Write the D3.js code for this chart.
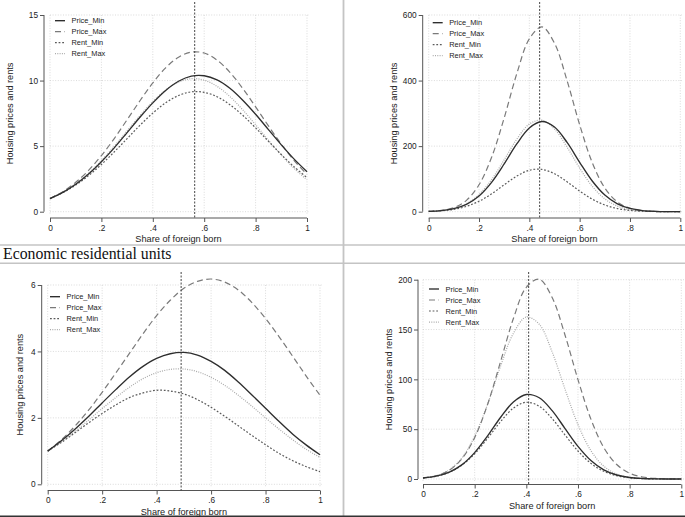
<!DOCTYPE html>
<html><head><meta charset="utf-8">
<script src="https://cdn.jsdelivr.net/npm/d3@7"></script>
<style>
html,body{margin:0;padding:0;background:#fff;}
svg{display:block;}
</style></head>
<body>
<svg id="chart" width="685" height="517"></svg>
<script>
// ---------- data ----------
const shareForeignBorn = [0,0.05,0.1,0.15,0.2,0.25,0.3,0.35,0.4,0.45,0.5,0.55,0.6,0.65,0.7,0.75,0.8,0.85,0.9,0.95,1];
const seriesNames = ["Price_Min","Price_Max","Rent_Min","Rent_Max"];
const xTickValues = [0,0.2,0.4,0.6,0.8,1];
const xTickLabels = ["0",".2",".4",".6",".8","1"];
const sectionLabel = "Economic residential units";
const xAxisTitle = "Share of foreign born";
const yAxisTitle = "Housing prices and rents";

// panel 1 (top-left)
const p1PriceMin = [1,1.47,2.09,2.87,3.81,4.87,6.03,7.20,8.30,9.25,9.95,10.34,10.37,10.05,9.41,8.50,7.43,6.26,5.10,4.01,3.05];
const p1PriceMax = [1,1.53,2.24,3.15,4.28,5.58,7.01,8.46,9.82,10.97,11.78,12.17,12.10,11.56,10.63,9.40,8.00,6.54,5.15,3.90,2.84];
const p1RentMin  = [1,1.45,2.03,2.75,3.60,4.56,5.57,6.59,7.52,8.30,8.86,9.14,9.10,8.77,8.16,7.35,6.39,5.37,4.36,3.42,2.60];
const p1RentMax  = [1,1.49,2.13,2.93,3.90,4.99,6.16,7.33,8.40,9.28,9.88,10.14,10.03,9.56,8.78,7.77,6.63,5.45,4.32,3.30,2.43];
const p1YTicks = [0,5,10,15];
const p1RefX = 0.563;

// panel 2 (top-right)
const p2PriceMin = [1,3.2,9.1,22.4,48.0,89.6,145.7,206.6,255.3,275.0,258.2,211.2,150.6,93.6,50.7,23.9,9.9,3.5,1.1,0.3,0.1];
const p2PriceMax = [1,3.8,12.5,34.6,82.1,165.9,286.0,420.7,527.3,563.7,513.9,399.6,265.1,149.9,72.3,29.7,10.4,3.1,0.8,0.2,0.0];
const p2RentMin  = [1,2.9,7.3,16.3,31.8,54.5,82.1,108.7,126.4,129.0,115.7,91.1,63.0,38.3,20.4,9.6,3.9,1.4,0.5,0.1,0.0];
const p2RentMax  = [1,3.3,9.7,24.2,52.4,97.9,158.3,221.2,267.3,279.2,252.2,196.9,132.9,77.6,39.1,17.1,6.4,2.1,0.6,0.1,0.0];
const p2YTicks = [0,200,400,600];
const p2RefX = 0.441;

// panel 3 (bottom-left)
const p3PriceMin = [1,1.31,1.66,2.04,2.45,2.85,3.23,3.55,3.79,3.93,3.97,3.89,3.70,3.43,3.08,2.69,2.29,1.89,1.51,1.18,0.89];
const p3PriceMax = [1,1.34,1.75,2.23,2.77,3.35,3.94,4.53,5.08,5.54,5.90,6.11,6.18,6.09,5.85,5.47,4.99,4.44,3.85,3.25,2.68];
const p3RentMin  = [1,1.26,1.55,1.85,2.13,2.39,2.61,2.75,2.83,2.81,2.72,2.55,2.32,2.05,1.76,1.47,1.19,0.93,0.71,0.53,0.38];
const p3RentMax  = [1,1.28,1.59,1.93,2.28,2.61,2.92,3.18,3.36,3.46,3.47,3.39,3.22,2.98,2.68,2.35,2.00,1.66,1.34,1.05,0.81];
const p3YTicks = [0,2,4,6];
const p3RefX = 0.49;

// panel 4 (bottom-right)
const p4PriceMin = [1,2.8,6.7,14.2,26.5,43.2,61.7,77.3,84.8,81.5,68.6,50.6,32.8,18.6,9.2,4.0,1.5,0.5,0.1,0.0,0.0];
const p4PriceMax = [1,3.1,8.5,20.1,41.5,74.8,117.5,161.0,192.4,200.4,182.1,144.3,99.7,60.1,31.5,14.5,5.8,2.0,0.6,0.2,0.0];
const p4RentMin  = [1,2.7,6.6,13.8,25.3,40.8,57.5,71.1,77.0,73.0,60.6,44.1,28.1,15.7,7.7,3.3,1.2,0.4,0.1,0.0,0.0];
const p4RentMax  = [1,3.2,8.9,21.0,42.9,75.0,113.0,146.2,162.5,155.3,127.5,90.0,54.6,28.5,12.8,4.9,1.6,0.5,0.1,0.0,0.0];
const p4YTicks = [0,50,100,150,200];
const p4RefX = 0.409;

// ---------- styles ----------
const styles = {
  Price_Min: {stroke:"#2e2e2e", dash:null, width:1.35},
  Price_Max: {stroke:"#7a7a7a", dash:"6,3.5", width:1.2},
  Rent_Min:  {stroke:"#5a5a5a", dash:"1.8,1.8", width:1.2},
  Rent_Max:  {stroke:"#ababab", dash:"1,1.3", width:1.25}
};
const SANS = "'Liberation Sans', Arial, Helvetica, sans-serif";

const panels = [
  {series:[p1PriceMin,p1PriceMax,p1RentMin,p1RentMax], yTicks:p1YTicks, refX:p1RefX,
   x0:50, x1:307, yTopPx:15, yBotPx:211.7, axisX:44, axisY:218, refTop:2, yTitleX:10,
   legX:55, legY:20.7},
  {series:[p2PriceMin,p2PriceMax,p2RentMin,p2RentMax], yTicks:p2YTicks, refX:p2RefX,
   x0:428.7, x1:680.3, yTopPx:15, yBotPx:211.7, axisX:422.7, axisY:218, refTop:2, yTitleX:394,
   legX:432.7, legY:22.7},
  {series:[p3PriceMin,p3PriceMax,p3RentMin,p3RentMax], yTicks:p3YTicks, refX:p3RefX,
   x0:47.7, x1:320, yTopPx:285, yBotPx:484.3, axisX:41.7, axisY:490.5, refTop:272, yTitleX:20,
   legX:50, legY:296.7},
  {series:[p4PriceMin,p4PriceMax,p4RentMin,p4RentMax], yTicks:p4YTicks, refX:p4RefX,
   x0:423, x1:681.3, yTopPx:279.7, yBotPx:479, axisX:418, axisY:484.5, refTop:272, yTitleX:389,
   legX:429, legY:289}
];

const svg = d3.select("#chart");
svg.append("rect").attr("width",685).attr("height",517).attr("fill","#fff");

// ---------- table frame ----------
const frame = svg.append("g");
frame.append("line").attr("x1",0).attr("x2",685).attr("y1",245).attr("y2",245).attr("stroke","#c4c4c4").attr("stroke-width",1.6);
frame.append("line").attr("x1",0).attr("x2",685).attr("y1",263.3).attr("y2",263.3).attr("stroke","#c4c4c4").attr("stroke-width",1.6);
frame.append("line").attr("x1",343.5).attr("x2",343.5).attr("y1",0).attr("y2",517).attr("stroke","#c4c4c4").attr("stroke-width",1.8);
frame.append("line").attr("x1",0).attr("x2",685).attr("y1",516.3).attr("y2",516.3).attr("stroke","#333").attr("stroke-width",1.6);
frame.append("text").attr("x",3).attr("y",259.3)
  .attr("font-family","'Liberation Serif', 'Times New Roman', serif")
  .attr("font-size",15.8).attr("fill","#111").text(sectionLabel);

// ---------- panels ----------
panels.forEach(p => {
  const g = svg.append("g");
  const yMax = d3.max(p.yTicks);
  const x = d3.scaleLinear().domain([0,1]).range([p.x0,p.x1]);
  const y = d3.scaleLinear().domain([0,yMax]).range([p.yBotPx,p.yTopPx]);

  // gridlines
  const grid = g.append("g").attr("stroke","#d2d2d2").attr("stroke-width",0.8).attr("stroke-dasharray","1,1.6");
  grid.selectAll("line.h").data(p.yTicks).join("line")
    .attr("x1",p.x0).attr("x2",p.x1+3).attr("y1",d=>y(d)).attr("y2",d=>y(d));
  grid.selectAll("line.v").data(xTickValues).join("line")
    .attr("x1",d=>x(d)).attr("x2",d=>x(d)).attr("y1",p.yTopPx).attr("y2",p.yBotPx+2);

  // y axis
  const yAxis = d3.axisLeft(y).tickValues(p.yTicks).tickSize(4).tickPadding(2).tickFormat(d3.format("d"));
  const ya = g.append("g").attr("transform",`translate(${p.axisX},0)`).call(yAxis);
  ya.select(".domain").attr("stroke","#555").attr("stroke-width",1).attr("d",`M0,${y(yMax)}V${y(0)}`);
  ya.selectAll(".tick line").attr("stroke","#555");
  ya.selectAll(".tick text").attr("font-family",SANS).attr("font-size",8.3).attr("fill","#222");

  // x axis
  const xAxis = d3.axisBottom(x).tickValues(xTickValues).tickSize(4).tickPadding(3)
    .tickFormat((d,i)=>xTickLabels[i]);
  const xa = g.append("g").attr("transform",`translate(0,${p.axisY})`).call(xAxis);
  xa.select(".domain").attr("stroke","#555").attr("stroke-width",1).attr("d",`M${p.x0},0H${p.x1}`);
  xa.selectAll(".tick line").attr("stroke","#555");
  xa.selectAll(".tick text").attr("font-family",SANS).attr("font-size",8.3).attr("fill","#222");

  // axis titles
  g.append("text").attr("x",(p.x0+p.x1)/2).attr("y",p.axisY+24.2).attr("text-anchor","middle")
    .attr("font-family",SANS).attr("font-size",9.2).attr("fill","#222").text(xAxisTitle);
  g.append("text").attr("transform",`translate(${p.yTitleX+3.2},${(p.yTopPx+p.yBotPx)/2}) rotate(-90)`)
    .attr("text-anchor","middle").attr("font-family",SANS).attr("font-size",9.2).attr("fill","#222").text(yAxisTitle);

  // curves
  const line = d3.line().x((d,i)=>x(shareForeignBorn[i])).y(d=>y(d)).curve(d3.curveCatmullRom.alpha(0.5));
  const order = [3,1,2,0];
  order.forEach(k => {
    const st = styles[seriesNames[k]];
    g.append("path").datum(p.series[k]).attr("d",line).attr("fill","none")
      .attr("stroke",st.stroke).attr("stroke-width",st.width)
      .attr("stroke-dasharray",st.dash).attr("stroke-linejoin","round");
  });

  // reference line
  g.append("line").attr("x1",x(p.refX)).attr("x2",x(p.refX)).attr("y1",p.refTop).attr("y2",p.axisY)
    .attr("stroke","#444").attr("stroke-width",1).attr("stroke-dasharray","2,1.5");

  // legend
  const leg = g.append("g");
  seriesNames.forEach((name,i) => {
    const st = styles[name];
    const yy = p.legY + i*11;
    leg.append("line").attr("x1",p.legX).attr("x2",p.legX+10).attr("y1",yy).attr("y2",yy)
      .attr("stroke",st.stroke).attr("stroke-width",st.width).attr("stroke-dasharray",st.dash);
    leg.append("text").attr("x",p.legX+16.5).attr("y",yy+2.6).attr("font-family",SANS)
      .attr("font-size",7.4).attr("fill","#222").text(name);
  });
});
</script>
</body></html>
